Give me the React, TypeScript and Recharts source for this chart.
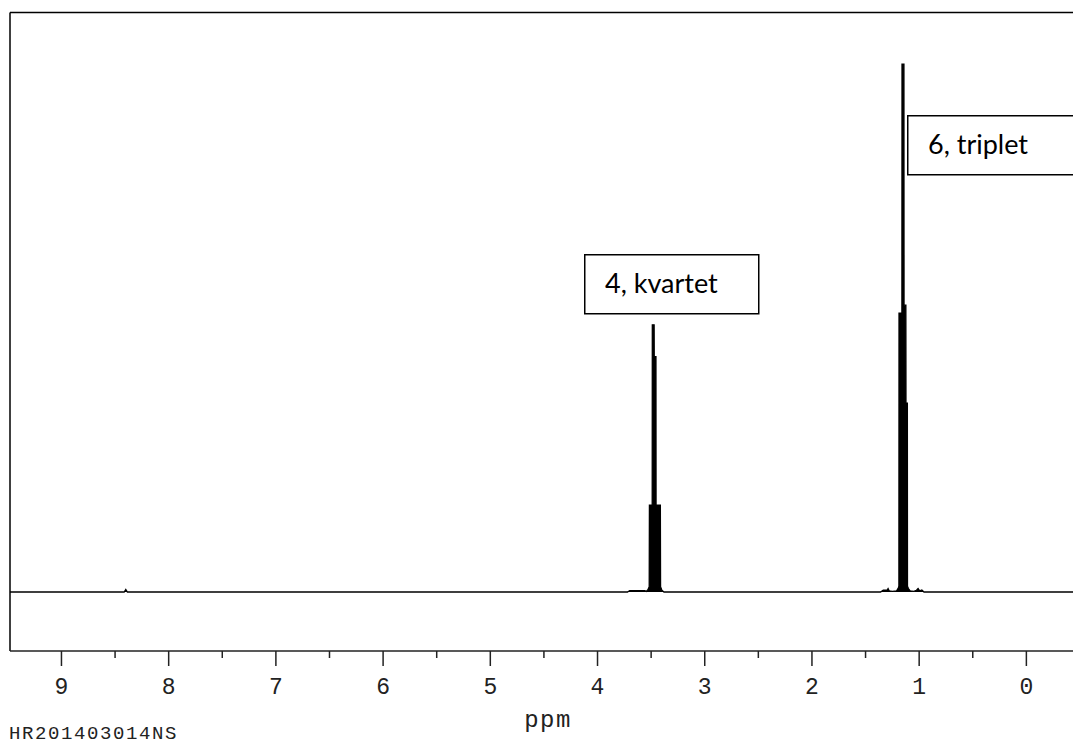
import { Area, ComposedChart, ReferenceLine, XAxis, YAxis } from "recharts";

// 1H NMR trace: chemical shift (ppm) and intensity (% of full scale)
const shiftPpm = [
  9.48, 8.415, 8.4, 8.385,
  3.72, 3.7, 3.56, 3.545, 3.53, 3.518, 3.516, 3.49, 3.489, 3.472, 3.471, 3.455, 3.454, 3.414, 3.412, 3.4, 3.38,
  1.36, 1.335, 1.3, 1.29, 1.28, 1.25, 1.21, 1.195, 1.189, 1.188, 1.161, 1.16, 1.142, 1.141, 1.124, 1.123, 1.11,
  1.109, 1.1, 1.085, 1.05, 1.025, 1.01, 0.995, 0.975, 0.955,
  -0.78,
];
const intensity = [
  0, 0, 0.45, 0,
  0, 0.25, 0.25, 0.1, 0.4, 0.9, 15, 15, 46.1, 46.1, 40.6, 40.6, 15, 15, 0.9, 0.3, 0,
  0, 0.3, 0.3, 0.6, 0.2, 0.1, 0.2, 0.7, 1.0, 48.1, 48.1, 91.1, 91.1, 49.5, 49.5, 32.6, 32.6,
  1.0, 0.6, 0.2, 0.1, 0.3, 0.6, 0.2, 0.35, 0,
  0,
];

const tickPpm = [9, 8.5, 8, 7.5, 7, 6.5, 6, 5.5, 5, 4.5, 4, 3.5, 3, 2.5, 2, 1.5, 1, 0.5, 0];
const xDomain = [-0.78, 9.48];
const yDomain = [-10.18, 100];

const peakLabels = ["4, kvartet", "6, triplet"];
const axisTitle = "ppm";
const sampleId = "HR201403014NS";

const spectrum = shiftPpm.map((ppm, i) => ({ ppm, value: intensity[i] }));

const MONO = '"Liberation Mono", "Courier New", monospace';
const SANS = 'Lato, "Open Sans", sans-serif';

function PpmTick(props: any) {
  const { x, y, payload } = props;
  const major = Number.isInteger(payload.value);
  return (
    <g>
      <line x1={x} x2={x} y1={y} y2={y + (major ? 15 : 7)} stroke="#222" strokeWidth={1.5} />
      {major && (
        <text x={x} y={y + 43} textAnchor="middle" fontFamily={MONO} fontSize={23} fill="#222">
          {payload.value}
        </text>
      )}
    </g>
  );
}

export default function App() {
  return (
    <div
      style={{
        position: "fixed",
        left: 0,
        top: 0,
        width: 1073,
        height: 744,
        overflow: "hidden",
        background: "#fff",
      }}
    >
      <ComposedChart
        width={1120}
        height={744}
        data={spectrum}
        margin={{ top: 12.5, right: 10, bottom: 63, left: 10 }}
      >
        <XAxis
          dataKey="ppm"
          type="number"
          domain={xDomain}
          reversed
          allowDataOverflow
          ticks={tickPpm}
          interval={0}
          height={30}
          tickSize={0}
          tickMargin={0}
          tickLine={false}
          tick={<PpmTick />}
          axisLine={{ stroke: "#222", strokeWidth: 1.5 }}
        />
        <YAxis type="number" domain={yDomain} allowDataOverflow hide />
        <ReferenceLine x={9.48} stroke="#000" strokeWidth={1.5} ifOverflow="visible" />
        <ReferenceLine y={100} stroke="#000" strokeWidth={1.5} ifOverflow="visible" />
        <Area
          type="linear"
          dataKey="value"
          baseValue={0}
          stroke="#000"
          strokeWidth={1.3}
          fill="#000"
          fillOpacity={1}
          dot={false}
          activeDot={false}
          isAnimationActive={false}
        />
      </ComposedChart>

      <svg
        width={1073}
        height={744}
        style={{ position: "absolute", left: 0, top: 0, pointerEvents: "none" }}
      >
        <rect x={584.75} y={254.75} width={174} height={59} fill="#fff" stroke="#000" strokeWidth={1.5} />
        <text x={605} y={293} fontFamily={SANS} fontSize={27} fill="#000">
          {peakLabels[0]}
        </text>
        <rect x={907.75} y={115.75} width={200} height={59} fill="#fff" stroke="#000" strokeWidth={1.5} />
        <text x={928} y={154} fontFamily={SANS} fontSize={27} fill="#000">
          {peakLabels[1]}
        </text>
        <text
          x={548}
          y={727}
          textAnchor="middle"
          fontFamily={MONO}
          fontSize={24}
          letterSpacing={1.5}
          fill="#222"
        >
          {axisTitle}
        </text>
        <text x={9} y={739} fontFamily={MONO} fontSize={19} letterSpacing={1.6} fill="#222">
          {sampleId}
        </text>
      </svg>
    </div>
  );
}
